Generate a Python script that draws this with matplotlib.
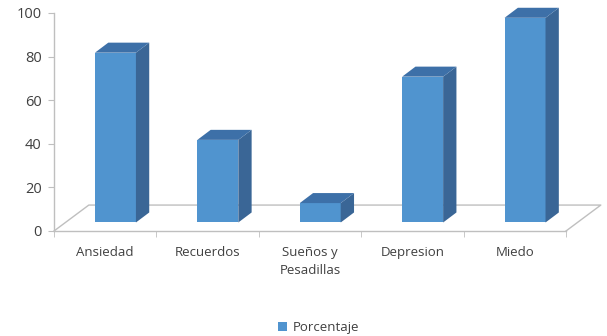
import matplotlib
matplotlib.use("Agg")
import matplotlib.pyplot as plt
from matplotlib.patches import Polygon, Patch
import numpy as np

# Datos del gráfico
categorias = ["Ansiedad", "Recuerdos", "Sueños y\nPesadillas", "Depresion", "Miedo"]
porcentaje = [80, 40, 11, 69, 96]
y_ticks = [0, 20, 40, 60, 80, 100]
serie = "Porcentaje"

# Colores de las caras
c_frente = "#5094CF"
c_lado = "#3A6696"
c_arriba = "#3D70A8"
c_gris = "#BFBFBF"
c_texto = "#404040"

plt.rcParams["font.family"] = ["Open Sans", "DejaVu Sans"]

fig = plt.figure(figsize=(6.07, 3.36), dpi=100)
ax = fig.add_axes([54 / 607, 105 / 336, 512 / 607, 218 / 336])
ax.set_xlim(-0.5, 4.5)
ax.set_ylim(0, 100)

# Profundidad del suelo (unidades de datos)
prof_x, prof_y = 0.34, 11.9
floor = [(-0.5, 0), (-0.5 + prof_x, prof_y), (4.5 + prof_x, prof_y), (4.5, 0)]
xs, ys = zip(*floor)
ax.plot(xs, ys, color=c_gris, lw=1, clip_on=False, zorder=1)

# Barras pseudo 3D
ancho = 0.4
base = 3.9
elev = 1.8
dx, dy = 0.13, 4.6
x_pos = np.arange(len(categorias))
for x, v in zip(x_pos, porcentaje):
    x0 = x - 0.1
    x1 = x0 + ancho
    top = v + elev
    ax.add_patch(Polygon([(x0, base), (x1, base), (x1, top), (x0, top)],
                         closed=True, fc=c_frente, ec="none", zorder=3, clip_on=False))
    ax.add_patch(Polygon([(x1, base), (x1 + dx, base + dy), (x1 + dx, top + dy), (x1, top)],
                         closed=True, fc=c_lado, ec="none", zorder=3, clip_on=False))
    ax.add_patch(Polygon([(x0, top), (x1, top), (x1 + dx, top + dy), (x0 + dx, top + dy)],
                         closed=True, fc=c_arriba, ec="none", zorder=3, clip_on=False))

# Ejes
for s in ["top", "right"]:
    ax.spines[s].set_visible(False)
for s in ["left", "bottom"]:
    ax.spines[s].set_color(c_gris)
    ax.spines[s].set_linewidth(1)

ax.set_yticks(y_ticks)
ax.tick_params(axis="y", colors=c_gris, length=4, labelcolor=c_texto, labelsize=10.5, pad=5)
ax.set_xticks(x_pos)
ax.set_xticklabels(categorias, color=c_texto, fontsize=9.5, linespacing=1.5, va="top")
ax.tick_params(axis="x", length=0, pad=11)
ax.set_xticks(np.arange(-0.5, 5, 1), minor=True)
ax.tick_params(axis="x", which="minor", length=4, color=c_gris)

fig.legend(handles=[Patch(fc=c_frente, ec="none", label=serie)],
           loc="center", bbox_to_anchor=(0.525, 0.025), frameon=False,
           fontsize=9.5, handlelength=0.65, handleheight=0.65, handletextpad=0.4,
           labelcolor=c_texto)

fig.savefig("out.png", dpi=100)
